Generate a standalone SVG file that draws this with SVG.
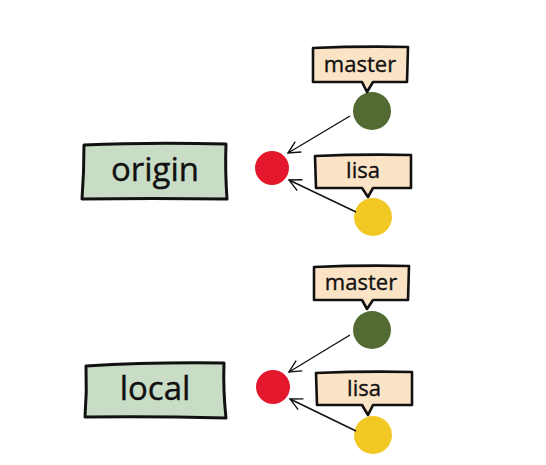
<svg xmlns="http://www.w3.org/2000/svg" width="546" height="465" viewBox="0 0 546 465">
<defs>
<style>
.box{fill:#c9dcc6;stroke:#111;stroke-width:3;stroke-linejoin:round}
.bub{fill:#fbe3c6;stroke:#111;stroke-width:2.6;stroke-linejoin:round}
.big{font-family:"Open Sans","Noto Sans",sans-serif;font-size:33px;fill:#111;stroke:#111;stroke-width:0.4;text-anchor:middle}
.lbl{font-family:"Open Sans","Noto Sans",sans-serif;font-size:22px;fill:#111;stroke:#111;stroke-width:0.35;text-anchor:middle}
.con{fill:none;stroke:#111;stroke-width:1.4}
.red{fill:#e3182d}.grn{fill:#536b33}.yel{fill:#f2c824}
</style>
<marker id="ah" viewBox="0 0 14 14" refX="13" refY="7" markerWidth="14" markerHeight="14" markerUnits="userSpaceOnUse" orient="auto">
<path d="M1,1 L13,7 L1,13" fill="none" stroke="#111" stroke-width="1.4"/>
</marker>
</defs>
<rect width="546" height="465" fill="#fff"/>
<g id="origin">
<path class="box" d="M84,145 Q150,142 226,144 Q225,170 227,199 Q150,198 82,199 Q84,172 84,145 Z"/>
<text class="big" x="155" y="181">origin</text>
</g>
<g id="local">
<path class="box" d="M86,366 Q150,362 224,363 Q223,390 226,418 Q150,416 85,417 Q87,392 86,366 Z"/>
<text class="big" x="155" y="400">local</text>
</g>
<g id="c1"><circle class="red" cx="272" cy="168" r="17"/></g>
<g id="c2"><circle class="grn" cx="372" cy="111" r="19"/></g>
<g id="c3"><circle class="yel" cx="373" cy="217" r="19"/></g>
<g id="c4"><circle class="red" cx="273" cy="387" r="17"/></g>
<g id="c5"><circle class="grn" cx="372" cy="330" r="19"/></g>
<g id="c6"><circle class="yel" cx="373" cy="435" r="19"/></g>
<g id="master1">
<path class="bub" d="M313,48 Q360,46 408,47 L407,82 L373,82 L367,92 L362,82 L313,82 Z"/>
<text class="lbl" x="360" y="72">master</text>
</g>
<g id="lisa1">
<path class="bub" d="M315,156 Q363,154 411,155 L411,188 L373,188 L368,197 L362,188 L316,188 Z"/>
<text class="lbl" x="363" y="178">lisa</text>
</g>
<g id="master2">
<path class="bub" d="M314,267 Q361,265 409,266 L408,300 L373,300 L367,309 L362,300 L314,300 Z"/>
<text class="lbl" x="361" y="290">master</text>
</g>
<g id="lisa2">
<path class="bub" d="M316,373 Q364,371 412,372 L412,405 L373,405 L368,415 L362,405 L317,405 Z"/>
<text class="lbl" x="364" y="396">lisa</text>
</g>
<g id="connectors">
<line class="con" x1="350" y1="116" x2="288" y2="153" marker-end="url(#ah)"/>
<line class="con" x1="356" y1="212" x2="289" y2="180" marker-end="url(#ah)"/>
<line class="con" x1="350" y1="335" x2="289" y2="372" marker-end="url(#ah)"/>
<line class="con" x1="356" y1="431" x2="290" y2="399" marker-end="url(#ah)"/>
</g>
</svg>
